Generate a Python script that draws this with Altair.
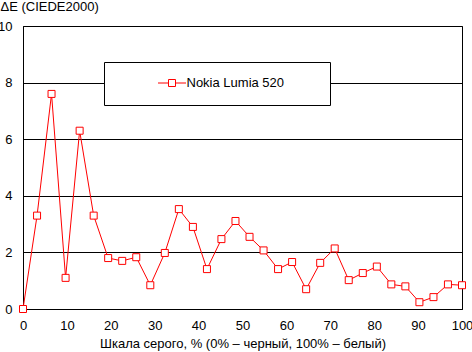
import altair as alt
import pandas as pd

series_name = "Nokia Lumia 520"
gray = [0, 3.2, 6.5, 9.7, 12.9, 16.1, 19.4, 22.6, 25.8, 29.0, 32.3, 35.5, 38.7,
        41.9, 45.2, 48.4, 51.6, 54.8, 58.1, 61.3, 64.5, 67.7, 71.0, 74.2, 77.4,
        80.6, 83.9, 87.1, 90.3, 93.5, 96.8, 100]
delta_e = [0.0, 3.3, 7.6, 1.1, 6.3, 3.3, 1.8, 1.7, 1.83, 0.84, 1.98, 3.53, 2.9,
           1.41, 2.47, 3.11, 2.55, 2.07, 1.41, 1.66, 0.7, 1.63, 2.14, 1.02, 1.27,
           1.5, 0.87, 0.8, 0.24, 0.42, 0.87, 0.84]
x_ticks = [0, 10, 20, 30, 40, 50, 60, 70, 80, 90, 100]
y_ticks = [0, 2, 4, 6, 8, 10]

df = pd.DataFrame({"x": gray, "y": delta_e, "s": [series_name] * len(gray)})

FONT = "Liberation Sans"
FS = 13

color = alt.Color(
    "s:N",
    scale=alt.Scale(domain=[series_name], range=["#ff0000"]),
    legend=alt.Legend(
        title=None, orient="none", legendX=142.5, legendY=50.5, padding=0,
        symbolType="M-4,0H-1M1,0H4M-1,-1H1V1H-1Z", symbolSize=49,
        symbolStrokeWidth=1, labelOffset=8, labelFont=FONT,
        labelFontSize=FS, labelColor="black",
    ),
)

x = alt.X("x:Q", scale=alt.Scale(domain=[0, 100], nice=False),
          axis=alt.Axis(values=x_ticks, title="Шкала серого, % (0% – черный, 100% – белый)",
                        grid=False, ticks=False, tickSize=0, labelPadding=10,
                        labelFlush=False, titleY=34, titleBaseline="middle"))
y = alt.Y("y:Q", scale=alt.Scale(domain=[0, 10], nice=False),
          axis=alt.Axis(values=y_ticks, title="ΔE (CIEDE2000)", grid=True,
                        ticks=False, tickSize=0, labelPadding=11,
                        titleAngle=0, titleX=-23, titleY=-20, titleAlign="left",
                        titleBaseline="middle"))

box = alt.Chart(pd.DataFrame({"a": [0]})).mark_rect(
    fill="white", stroke="black", strokeWidth=1
).encode(x=alt.value(81.5), x2=alt.value(307.5), y=alt.value(36.5), y2=alt.value(79.5))

line = alt.Chart(df).mark_line(strokeWidth=1).encode(x=x, y=y, color=color)
pts = alt.Chart(df).mark_point(shape="square", size=49, filled=False, fill="white",
                               strokeWidth=1, opacity=1).encode(x=x, y=y, color=color)

chart = alt.layer(line, pts, box).properties(
    width=439, height=283,
    autosize=alt.AutoSizeParams(type="none"),
    padding={"left": 23, "top": 26, "right": 10, "bottom": 43},
    background="white",
).configure_view(stroke="black", strokeWidth=1).configure_axis(
    domainColor="black", gridColor="black", gridWidth=1, gridOpacity=1,
    labelFont=FONT, labelFontSize=FS, labelColor="black",
    titleFont=FONT, titleFontSize=FS, titleColor="black", titleFontWeight="normal",
)

chart.save("out.html", embed_options={"renderer": "svg", "actions": False})
